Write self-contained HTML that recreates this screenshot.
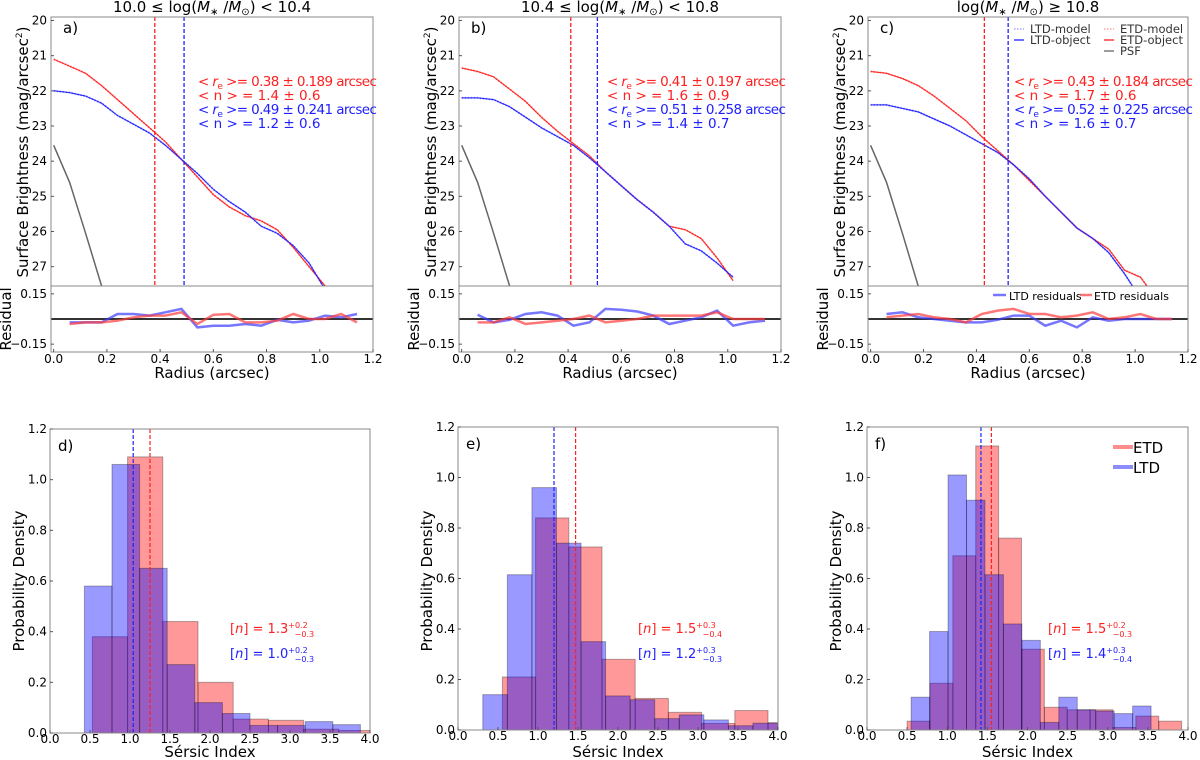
<!DOCTYPE html>
<html><head><meta charset="utf-8">
<style>
html,body{margin:0;padding:0;background:#fff;}
svg{display:block;font-family:"DejaVu Sans","Liberation Sans",sans-serif;}
</style></head>
<body>
<svg id="fig" width="1200" height="760" viewBox="0 0 1200 760" xmlns="http://www.w3.org/2000/svg"></svg>
<script>
// ---------- data ----------
const radiusGrid = [0,0.06,0.12,0.18,0.24,0.30,0.36,0.42,0.48,0.54,0.60,0.66,0.72,0.78,0.84,0.90,0.96,1.02,1.08];
const residRadius = [0.06,0.12,0.18,0.24,0.30,0.36,0.42,0.48,0.54,0.60,0.66,0.72,0.78,0.84,0.90,0.96,1.02,1.08,1.14];
const psfRadius = [0,0.06,0.12,0.18];
const psfMag = [23.55,24.6,26.05,27.55];

const etdMagA = [21.1,21.3,21.5,21.85,22.25,22.65,23.05,23.45,23.95,24.45,24.95,25.3,25.55,25.7,25.95,26.45,27.0,27.55];
const ltdMagA = [22.0,22.05,22.15,22.35,22.7,22.95,23.2,23.55,23.95,24.35,24.8,25.15,25.45,25.85,26.05,26.4,26.9,27.65];
const etdMagB = [21.35,21.45,21.6,21.95,22.3,22.75,23.15,23.5,23.85,24.3,24.7,25.1,25.45,25.85,25.95,26.2,26.75,27.4];
const ltdMagB = [22.2,22.2,22.25,22.45,22.75,23.05,23.3,23.55,23.9,24.3,24.7,25.1,25.45,25.85,26.35,26.55,26.9,27.3];
const etdMagC = [21.45,21.5,21.65,21.85,22.15,22.5,22.85,23.3,23.7,24.1,24.55,25.0,25.45,25.9,26.2,26.5,27.1,27.3,27.9];
const ltdMagC = [22.4,22.4,22.5,22.6,22.8,23.0,23.25,23.5,23.75,24.1,24.5,25.0,25.45,25.9,26.2,26.6,27.2,27.9];

const ltdResA = [-0.02,-0.02,-0.02,0.03,0.03,0.02,0.04,0.06,-0.05,-0.04,-0.04,-0.03,-0.04,-0.005,-0.02,-0.01,0.02,0.01,0.03];
const etdResA = [-0.03,-0.02,-0.02,-0.01,0.01,0.02,0.02,0.04,-0.03,0.025,0.03,-0.02,-0.02,-0.01,0.03,0.0,0.0,0.03,-0.02];
const ltdResB = [0.025,-0.02,-0.005,0.03,0.04,0.02,-0.04,-0.02,0.06,0.055,0.045,0.02,-0.03,-0.01,0.01,0.05,-0.04,-0.02,-0.01];
const etdResB = [-0.02,-0.02,0.01,-0.03,-0.02,-0.01,0.0,0.02,-0.02,-0.01,0.0,0.02,0.02,0.02,0.02,0.04,0.0,0.0,0.0];
const ltdResC = [0.03,0.04,0.01,0.0,-0.01,-0.02,-0.02,-0.005,0.02,0.02,-0.04,-0.01,-0.05,0.01,-0.01,0.0,0.0,0.0,0.0];
const etdResC = [0.01,0.02,0.03,0.01,0.0,-0.02,0.03,0.05,0.06,0.03,0.03,0.01,0.02,0.04,0.0,0.01,0.03,0.0,0.0];

const reEtd = [0.38,0.41,0.43];
const reLtd = [0.49,0.51,0.52];
const panelTitles = ["10.0 ≤ log(", "10.4 ≤ log(", "log("];
const titleTails = [") < 10.4", ") < 10.8", ") ≥ 10.8"];
const annEtdRe = ["0.38 ± 0.189","0.41 ± 0.197","0.43 ± 0.184"];
const annEtdN = ["1.4 ± 0.6","1.6 ± 0.9","1.7 ± 0.6"];
const annLtdRe = ["0.49 ± 0.241","0.51 ± 0.258","0.52 ± 0.225"];
const annLtdN = ["1.2 ± 0.6","1.4 ± 0.7","1.6 ± 0.7"];
const magTicks = [20,21,22,23,24,25,26,27];
const radTicks = [0.0,0.2,0.4,0.6,0.8,1.0,1.2];
const resTicks = [0.15,-0.15];

// histograms
const etdEdgesD = [0.53,0.97,1.41,1.85,2.29,2.73,3.17,3.61,4.05];
const etdDensD = [0.38,1.09,0.44,0.20,0.055,0.05,0.015,0.01];
const ltdEdgesD = [0.43,0.775,1.12,1.465,1.81,2.155,2.5,2.845,3.19,3.535,3.88];
const ltdDensD = [0.58,1.06,0.65,0.27,0.12,0.077,0.03,0.03,0.045,0.033];
const etdEdgesE = [0.555,0.97,1.385,1.80,2.215,2.63,3.045,3.46,3.875,4.29];
const etdDensE = [0.21,0.84,0.725,0.28,0.125,0.07,0.026,0.077,0.029];
const ltdEdgesE = [0.31,0.617,0.924,1.231,1.538,1.845,2.152,2.459,2.766,3.073,3.38,3.687,3.994];
const ltdDensE = [0.14,0.615,0.96,0.74,0.35,0.135,0.12,0.045,0.06,0.04,0.017,0.027];
const etdEdgesF = [0.5,0.785,1.07,1.355,1.64,1.925,2.21,2.495,2.78,3.065,3.35,3.635,3.92];
const etdDensF = [0.035,0.185,0.69,1.125,0.76,0.32,0.09,0.08,0.08,0.01,0.055,0.035];
const ltdEdgesF = [0.55,0.78,1.01,1.24,1.47,1.70,1.93,2.16,2.39,2.62,2.85,3.08,3.31,3.54];
const ltdDensF = [0.13,0.39,1.01,0.91,0.615,0.42,0.355,0.03,0.13,0.08,0.075,0.065,0.095];
const medEtd = [1.25,1.47,1.55];
const medLtd = [1.04,1.20,1.42];
const annEtdMed = [["1.3","+0.2","−0.3"],["1.5","+0.3","−0.4"],["1.5","+0.2","−0.3"]];
const annLtdMed = [["1.0","+0.2","−0.3"],["1.2","+0.3","−0.3"],["1.4","+0.3","−0.4"]];
const densTicks = [0.0,0.2,0.4,0.6,0.8,1.0,1.2];
const sersicTicks = [0.0,0.5,1.0,1.5,2.0,2.5,3.0,3.5,4.0];

// ---------- helpers ----------
const NS="http://www.w3.org/2000/svg";
const fig=document.getElementById('fig');
function mk(tag,attrs,parent){const e=document.createElementNS(NS,tag);for(const k in attrs)e.setAttribute(k,attrs[k]);(parent||fig).appendChild(e);return e;}
function txt(s,x,y,size,anchor,fill,parent){const t=mk('text',{x:x,y:y,'font-size':size,'text-anchor':anchor||'start',fill:fill||'#000'},parent);t.textContent=s;return t;}
function poly(xs,ys,fx,fy){return ys.map((v,i)=>fx(xs[i]).toFixed(1)+','+fy(v).toFixed(1)).join(' ');}

const RED='#ff2020', BLUE='#2020ff';
const profPanels=[
 {L:51,R:373,etd:etdMagA,ltd:ltdMagA,er:etdResA,lr:ltdResA,letter:'a)'},
 {L:459,R:781,etd:etdMagB,ltd:ltdMagB,er:etdResB,lr:ltdResB,letter:'b)'},
 {L:868,R:1188,etd:etdMagC,ltd:ltdMagC,er:etdResC,lr:ltdResC,letter:'c)'}];
const T=17,MB=286,RB=352;

profPanels.forEach((p,i)=>{
  const g=mk('g',{});
  
  
  const x0=-0.01,x1=1.2;
  const fx=v=>p.L+(v-x0)/(x1-x0)*(p.R-p.L);
  const fy=m=>T+(m-19.9)/(27.55-19.9)*(MB-T);
  const fr=r=>319-r*167.7;
  const clip=mk('clipPath',{id:'clipm'+i},g);
  mk('rect',{x:p.L,y:T,width:p.R-p.L,height:MB-T},clip);
  const clipr=mk('clipPath',{id:'clipr'+i},g);
  mk('rect',{x:p.L,y:MB,width:p.R-p.L,height:RB-MB},clipr);
  const tt=mk('text',{x:(p.L+p.R)/2,y:12,'font-size':15,'text-anchor':'middle'},g);
  
  
  tt.innerHTML=panelTitles[i]+'<tspan font-style="italic">M</tspan><tspan font-size="10" dy="3">∗</tspan><tspan dy="-3"> /</tspan><tspan font-style="italic">M</tspan><tspan font-size="10" dy="3">⊙</tspan><tspan dy="-3">'+titleTails[i]+'</tspan>';
  const psf=mk('polyline',{points:poly(psfRadius,psfMag,fx,fy),fill:'none',stroke:'#666','stroke-width':1.5,'clip-path':'url(#clipm'+i+')'},g);
  
  
  const em=mk('polyline',{points:poly(radiusGrid,p.etd,fx,fy),fill:'none',stroke:'#ff9090','stroke-width':2,'stroke-dasharray':'1.5,1.5','clip-path':'url(#clipm'+i+')'},g);
  
  
  const lm=mk('polyline',{points:poly(radiusGrid,p.ltd,fx,fy),fill:'none',stroke:'#9090ff','stroke-width':2,'stroke-dasharray':'1.5,1.5','clip-path':'url(#clipm'+i+')'},g);
  
  
  const eo=mk('polyline',{points:poly(radiusGrid,p.etd,fx,fy),fill:'none',stroke:RED,'stroke-width':1,'clip-path':'url(#clipm'+i+')'},g);
  
  
  const lo=mk('polyline',{points:poly(radiusGrid,p.ltd,fx,fy),fill:'none',stroke:BLUE,'stroke-width':1,'clip-path':'url(#clipm'+i+')'},g);
  
  
  const v1=mk('line',{x1:fx(reEtd[i]),x2:fx(reEtd[i]),y1:T,y2:MB,stroke:RED,'stroke-width':1.3,'stroke-dasharray':'4,2'},g);
  
  
  const v2=mk('line',{x1:fx(reLtd[i]),x2:fx(reLtd[i]),y1:T,y2:MB,stroke:BLUE,'stroke-width':1.3,'stroke-dasharray':'4,2'},g);
  
  
  const rz=mk('line',{x1:p.L,x2:p.R,y1:fr(0),y2:fr(0),stroke:'#333','stroke-width':2},g);
  
  
  const lrl=mk('polyline',{points:poly(residRadius,p.lr,fx,fr),fill:'none',stroke:'rgba(60,60,255,0.7)','stroke-width':2.5,'clip-path':'url(#clipr'+i+')'},g);
  
  
  const erl=mk('polyline',{points:poly(residRadius,p.er,fx,fr),fill:'none',stroke:'rgba(255,60,60,0.7)','stroke-width':2.5,'clip-path':'url(#clipr'+i+')'},g);
  
  
  const f1=mk('rect',{x:p.L,y:T,width:p.R-p.L,height:MB-T,fill:'none',stroke:'#888','stroke-width':1},g);
  
  
  const f2=mk('rect',{x:p.L,y:MB,width:p.R-p.L,height:RB-MB,fill:'none',stroke:'#888','stroke-width':1},g);
  
  
  magTicks.forEach(m=>{
    mk('line',{x1:p.L,x2:p.L+3,y1:fy(m),y2:fy(m),stroke:'#555'},g);
    const t=txt(String(m),p.L-4,fy(m)+4,12,'end','#000',g);
    
    
  });
  resTicks.forEach(r=>{
    mk('line',{x1:p.L,x2:p.L+3,y1:fr(r),y2:fr(r),stroke:'#555'},g);
    const t=txt(r>0?'0.15':'−0.15',p.L-4,fr(r)+4,12,'end','#000',g);
    
    
  });
  radTicks.forEach(r=>{
    mk('line',{x1:fx(r),x2:fx(r),y1:RB,y2:RB-3,stroke:'#555'},g);
    const t=txt(r.toFixed(1),fx(r),RB+11,12,'middle','#000',g);
    
    
  });
  const xl=txt('Radius (arcsec)',(p.L+p.R)/2,378,15,'middle','#000',g);
  
  
  const yl=mk('text',{x:0,y:0,'font-size':15,'text-anchor':'middle',transform:'translate('+(p.L-23)+',152) rotate(-90)'},g);
  
  
  yl.innerHTML='Surface Brightness (mag/arcsec<tspan font-size="9" dy="-6">2</tspan><tspan dy="6">)</tspan>';
  const rl=mk('text',{x:0,y:0,'font-size':15,'text-anchor':'middle',transform:'translate('+(p.L-40)+',319) rotate(-90)'},g);
  
  
  rl.textContent='Residual';
  const lt=txt(p.letter,p.L+12,33,15,'start','#000',g);
  
  
  const ax=p.L+(i==0?147:i==1?148:146);
  const a1=mk('text',{x:ax,y:86,'font-size':13.5,fill:RED,'letter-spacing':-0.6},g);
  
  
  a1.innerHTML='&lt; <tspan font-style="italic">r</tspan><tspan font-size="9" dy="3">e</tspan><tspan dy="-3"> &gt;= '+annEtdRe[i]+' arcsec</tspan>';
  const a2=txt('< n >  = '+annEtdN[i],ax,100,13.5,'start',RED,g);
  
  
  const a3=mk('text',{x:ax,y:114,'font-size':13.5,fill:BLUE,'letter-spacing':-0.6},g);
  
  
  a3.innerHTML='&lt; <tspan font-style="italic">r</tspan><tspan font-size="9" dy="3">e</tspan><tspan dy="-3"> &gt;= '+annLtdRe[i]+' arcsec</tspan>';
  const a4=txt('< n >  = '+annLtdN[i],ax,128,13.5,'start',BLUE,g);
  
  
  if(i==2){
    const lg=mk('g',{},g);
    
    
    const items=[[1014,33,'#9090ff','1.5,1.5','LTD-model'],[1014,44,BLUE,'','LTD-object'],[1104,33,'#ff9090','1.5,1.5','ETD-model'],[1104,44,RED,'','ETD-object'],[1104,55,'#666','','PSF']];
    items.forEach(it=>{
      mk('line',{x1:it[0],x2:it[0]+10,y1:it[1]-4,y2:it[1]-4,stroke:it[2],'stroke-width':1.3,'stroke-dasharray':it[3]},lg);
      const t=txt(it[4],it[0]+16,it[1],11.5,'start','#333',lg);
      
      
    });
    const rlg=mk('g',{},g);
    
    
    mk('line',{x1:993,x2:1006,y1:295,y2:295,stroke:'rgba(60,60,255,0.7)','stroke-width':2.5},rlg);
    const r1=txt('LTD residuals',1009,300,11,'start','#000',rlg);
    
    
    mk('line',{x1:1080,x2:1092,y1:295,y2:295,stroke:'rgba(255,60,60,0.7)','stroke-width':2.5},rlg);
    const r2=txt('ETD residuals',1094,300,11,'start','#000',rlg);
    
    
  }
});

// ---------- histograms ----------
const histPanels=[
 {L:50,R:370,T:429,B:733,ee:etdEdgesD,ed:etdDensD,le:ltdEdgesD,ld:ltdDensD,letter:'d)',ax:230},
 {L:458,R:778,T:427,B:730,ee:etdEdgesE,ed:etdDensE,le:ltdEdgesE,ld:ltdDensE,letter:'e)',ax:638},
 {L:867,R:1188,T:427,B:730,ee:etdEdgesF,ed:etdDensF,le:ltdEdgesF,ld:ltdDensF,letter:'f)',ax:1048}];
histPanels.forEach((p,i)=>{
  const g=mk('g',{});
  
  
  const fx=v=>p.L+v/4*(p.R-p.L);
  const fy=d=>p.B-d/1.2*(p.B-p.T);
  const clip=mk('clipPath',{id:'cliph'+i},g);
  mk('rect',{x:p.L,y:p.T,width:p.R-p.L,height:p.B-p.T},clip);
  p.ed.forEach((d,k)=>{
    const r=mk('rect',{x:fx(p.ee[k]),y:fy(d),width:fx(p.ee[k+1])-fx(p.ee[k]),height:fy(0)-fy(d),fill:'rgba(255,0,0,0.4)',stroke:'rgba(0,0,0,0.3)','stroke-width':1,'clip-path':'url(#cliph'+i+')'},g);
    
    
  });
  p.ld.forEach((d,k)=>{
    const r=mk('rect',{x:fx(p.le[k]),y:fy(d),width:fx(p.le[k+1])-fx(p.le[k]),height:fy(0)-fy(d),fill:'rgba(0,0,255,0.4)',stroke:'rgba(0,0,0,0.3)','stroke-width':1,'clip-path':'url(#cliph'+i+')'},g);
    
    
  });
  const m1=mk('line',{x1:fx(medLtd[i]),x2:fx(medLtd[i]),y1:p.T,y2:p.B,stroke:BLUE,'stroke-width':1.2,'stroke-dasharray':'4,2'},g);
  
  
  const m2=mk('line',{x1:fx(medEtd[i]),x2:fx(medEtd[i]),y1:p.T,y2:p.B,stroke:RED,'stroke-width':1.2,'stroke-dasharray':'4,2'},g);
  
  
  const fr=mk('rect',{x:p.L,y:p.T,width:p.R-p.L,height:p.B-p.T,fill:'none',stroke:'#888'},g);
  
  
  densTicks.forEach(d=>{
    mk('line',{x1:p.L,x2:p.L+3,y1:fy(d),y2:fy(d),stroke:'#555'},g);
    const t=txt(d.toFixed(1),p.L-3,fy(d)+4,12,'end','#000',g);
    
    
  });
  sersicTicks.forEach(s=>{
    mk('line',{x1:fx(s),x2:fx(s),y1:p.B,y2:p.B-3,stroke:'#555'},g);
    const t=txt(s.toFixed(1),fx(s),p.B+10,12,'middle','#000',g);
    
    
  });
  const xl=txt('Sérsic Index',(p.L+p.R)/2,757,15,'middle','#000',g);
  
  
  const yl=mk('text',{x:0,y:0,'font-size':15,'text-anchor':'middle',transform:'translate('+(p.L-26)+',581) rotate(-90)'},g);
  
  
  yl.textContent='Probability Density';
  const lt=txt(p.letter,p.L+8,p.T+22,15,'start','#000',g);
  
  
  [[annEtdMed[i],RED,633,'etd-median-annotation'],[annLtdMed[i],BLUE,658,'ltd-median-annotation']].forEach(a=>{
    const t=mk('text',{x:p.ax,y:a[2],'font-size':13,fill:a[1]},g);
    
    
    t.innerHTML='[<tspan font-style="italic">n</tspan>] = '+a[0][0]+'<tspan font-size="8" dy="-5">'+a[0][1]+'</tspan><tspan font-size="8" dx="-13" dy="9">'+a[0][2]+'</tspan>';
  });
  if(i==2){
    const lg=mk('g',{},g);
    
    
    mk('line',{x1:1113,x2:1133,y1:447,y2:447,stroke:'rgba(255,0,0,0.45)','stroke-width':4},lg);
    const e=txt('ETD',1133,453,15,'start','#000',lg);
    
    
    mk('line',{x1:1113,x2:1133,y1:467,y2:467,stroke:'rgba(0,0,255,0.45)','stroke-width':4},lg);
    const l=txt('LTD',1133,473,15,'start','#000',lg);
    
    
  }
});
</script>
</body></html>
